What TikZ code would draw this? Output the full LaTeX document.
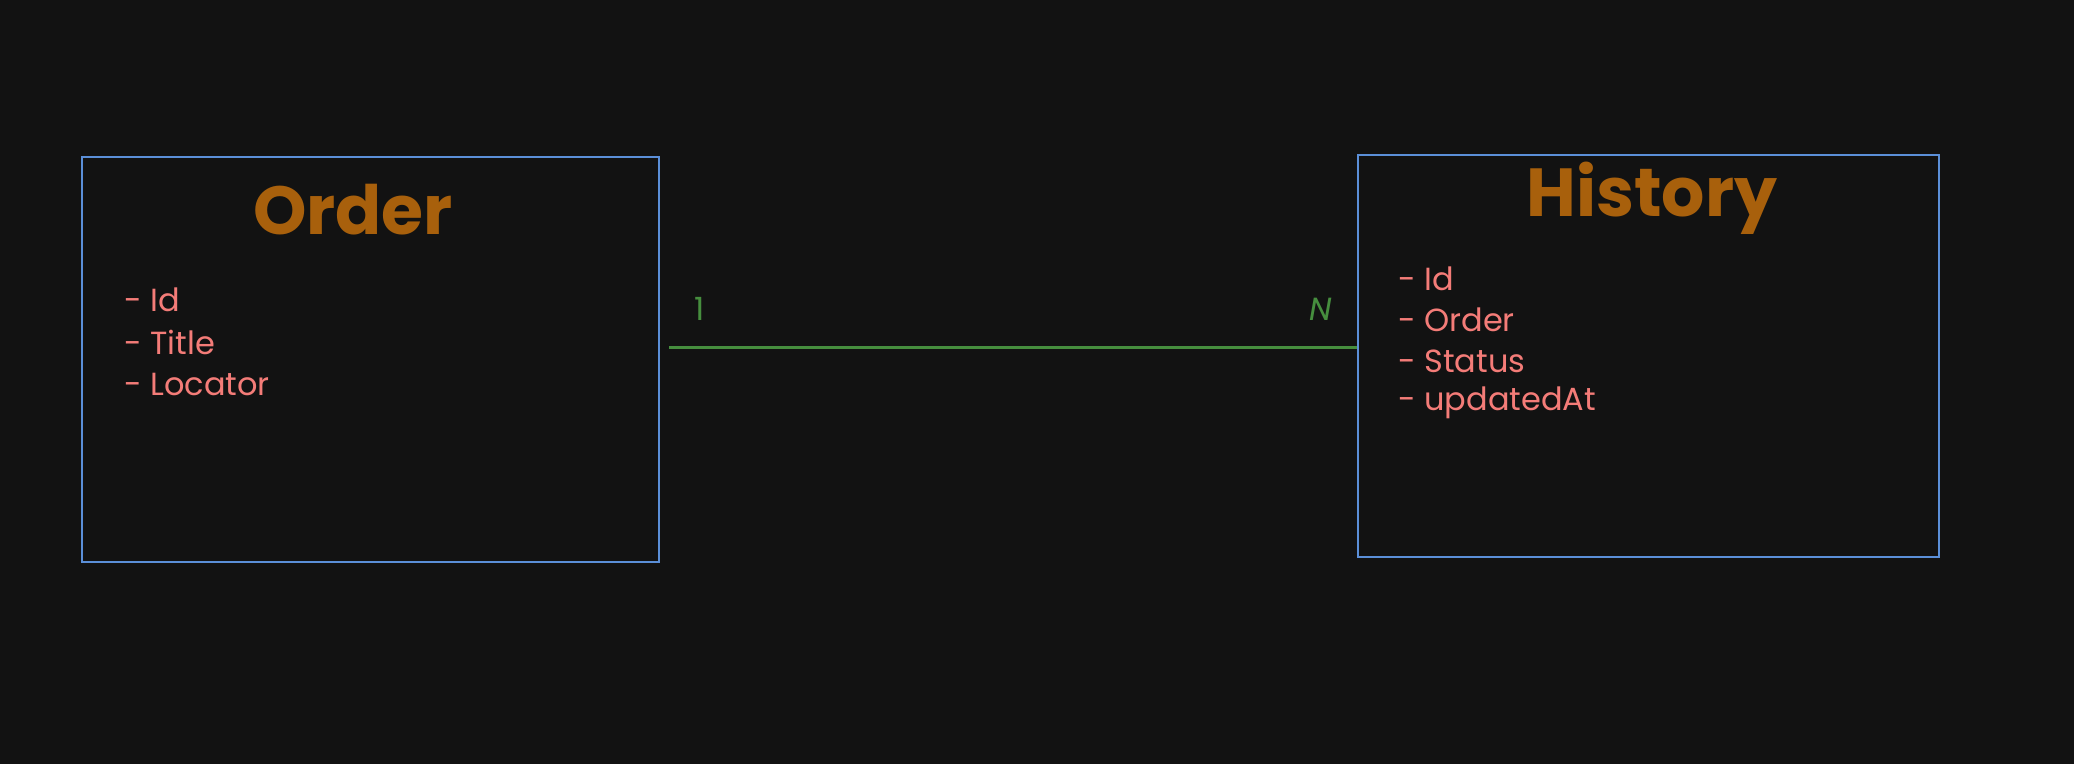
\documentclass[tikz,border=0pt]{standalone}
\usepackage{fontspec}
\setmainfont{Poppins}
\definecolor{bgc}{HTML}{121212}
\definecolor{boxc}{HTML}{5B8FD8}
\definecolor{titlec}{HTML}{A8600C}
\definecolor{itemc}{HTML}{F47C78}
\definecolor{linkc}{HTML}{468E3E}
\tikzset{
  entity/.style={draw=boxc, line width=2.8pt, rectangle, inner sep=0pt},
  etitle/.style={text=titlec, font=\fontsize{68}{80}\selectfont\bfseries, inner sep=0pt, anchor=center},
  eitem/.style={text=itemc, font=\fontsize{32}{38}\selectfont, inner sep=0pt, anchor=west},
  card/.style={text=linkc, font=\fontsize{32}{38}\selectfont, inner sep=0pt},
  rel/.style={draw=linkc, line width=3pt}
}
\begin{document}
\begin{tikzpicture}[x=1pt,y=-1pt]
\fill[bgc] (0,0) rectangle (2074,764);
\useasboundingbox (0,0) rectangle (2074,764);
% boxes
\node[entity, minimum width=577pt, minimum height=405pt] (order) at (370.5,359.5) {};
\node[entity, minimum width=581pt, minimum height=402pt] (history) at (1648.5,356) {};
% titles
\node[etitle] (ordertitle) at (353,210) {Order};
\node[etitle] (historytitle) at (1652,198) {History};
% order items
\node[eitem] (o1) at (124,300) {- Id};
\node[eitem] (o2) at (124,342) {- Title};
\node[eitem] (o3) at (124,384) {- Locator};
% history items
\node[eitem] (h1) at (1398,279) {- Id};
\node[eitem] (h2) at (1398,320) {- Order};
\node[eitem] (h3) at (1398,361) {- Status};
\node[eitem] (h4) at (1398,403) {- updatedAt};
% relation
\coordinate (liney) at (0,347);
\draw[rel] ([xshift=9pt]order.east |- liney) -- (history.west |- liney);
\node[card] (one) at (700,309) {1};
\node[card, font=\fontsize{32}{38}\selectfont\itshape] (many) at (1321,309) {N};
\end{tikzpicture}
\end{document}
